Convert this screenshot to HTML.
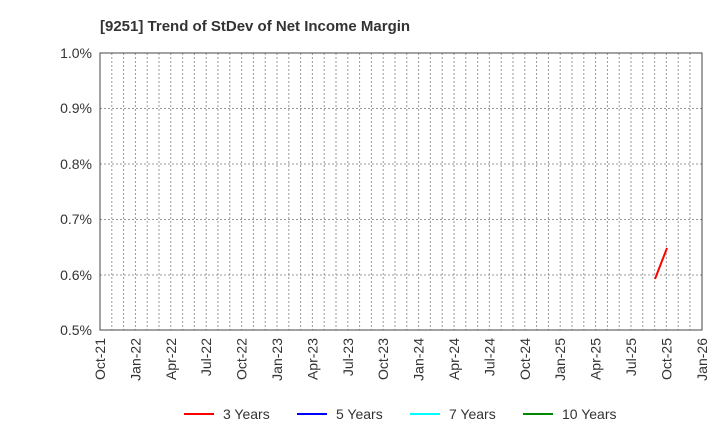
<!DOCTYPE html><html><head><style>body{margin:0;background:#fff}svg{display:block}text{font-family:"Liberation Sans",sans-serif}</style></head><body>
<svg width="720" height="440" xmlns="http://www.w3.org/2000/svg">
<text x="100" y="31" font-size="15" font-weight="bold" fill="#333">[9251]  Trend of StDev of Net Income Margin</text>
<g font-size="14" fill="#333" text-anchor="end">
<text x="92" y="58">1.0%</text><text x="92" y="113">0.9%</text><text x="92" y="169">0.8%</text><text x="92" y="224">0.7%</text><text x="92" y="280">0.6%</text><text x="92" y="335">0.5%</text>
</g>
<g stroke="#999" stroke-dasharray="2,2" stroke-width="1" fill="none">
<path d="M100 108.5H702M100 164H702M100 219.5H702M100 275H702"/>
<path d="M111.8 53V330M123.6 53V330M135.4 53V330M147.2 53V330M159 53V330M170.8 53V330M182.6 53V330M194.4 53V330M206.2 53V330M218 53V330M229.8 53V330M241.6 53V330M253.4 53V330M265.2 53V330M277 53V330M288.8 53V330M300.6 53V330M312.4 53V330M324.2 53V330M336 53V330M347.8 53V330M359.6 53V330M371.4 53V330M383.2 53V330M395 53V330M406.8 53V330M418.6 53V330M430.4 53V330M442.2 53V330M454 53V330M465.8 53V330M477.6 53V330M489.4 53V330M501.2 53V330M513 53V330M524.8 53V330M536.6 53V330M548.4 53V330M560.2 53V330M572 53V330M583.8 53V330M595.6 53V330M607.4 53V330M619.2 53V330M631 53V330M642.8 53V330M654.6 53V330M666.4 53V330M678.2 53V330M690 53V330"/>
</g>
<rect x="100" y="53" width="602" height="277" fill="none" stroke="#444" stroke-width="1"/>
<line x1="655" y1="279" x2="667" y2="248" stroke="#f00" stroke-width="2"/>
<g font-size="14" fill="#333" text-anchor="end">
<text transform="translate(105,338) rotate(-90)">Oct-21</text>
<text transform="translate(140.4,338) rotate(-90)">Jan-22</text>
<text transform="translate(175.8,338) rotate(-90)">Apr-22</text>
<text transform="translate(211.2,338) rotate(-90)">Jul-22</text>
<text transform="translate(246.6,338) rotate(-90)">Oct-22</text>
<text transform="translate(282,338) rotate(-90)">Jan-23</text>
<text transform="translate(317.4,338) rotate(-90)">Apr-23</text>
<text transform="translate(352.8,338) rotate(-90)">Jul-23</text>
<text transform="translate(388.2,338) rotate(-90)">Oct-23</text>
<text transform="translate(423.6,338) rotate(-90)">Jan-24</text>
<text transform="translate(459,338) rotate(-90)">Apr-24</text>
<text transform="translate(494.4,338) rotate(-90)">Jul-24</text>
<text transform="translate(529.8,338) rotate(-90)">Oct-24</text>
<text transform="translate(565.2,338) rotate(-90)">Jan-25</text>
<text transform="translate(600.6,338) rotate(-90)">Apr-25</text>
<text transform="translate(636,338) rotate(-90)">Jul-25</text>
<text transform="translate(671.4,338) rotate(-90)">Oct-25</text>
<text transform="translate(706.8,338) rotate(-90)">Jan-26</text>
</g>
<g font-size="14" fill="#333">
<line x1="184" y1="414" x2="214" y2="414" stroke="#f00" stroke-width="2"/><text x="223" y="419">3 Years</text>
<line x1="297" y1="414" x2="327" y2="414" stroke="#00f" stroke-width="2"/><text x="336" y="419">5 Years</text>
<line x1="410" y1="414" x2="440" y2="414" stroke="#0ff" stroke-width="2"/><text x="449" y="419">7 Years</text>
<line x1="523" y1="414" x2="553" y2="414" stroke="#080" stroke-width="2"/><text x="562" y="419">10 Years</text>
</g>
</svg></body></html>
